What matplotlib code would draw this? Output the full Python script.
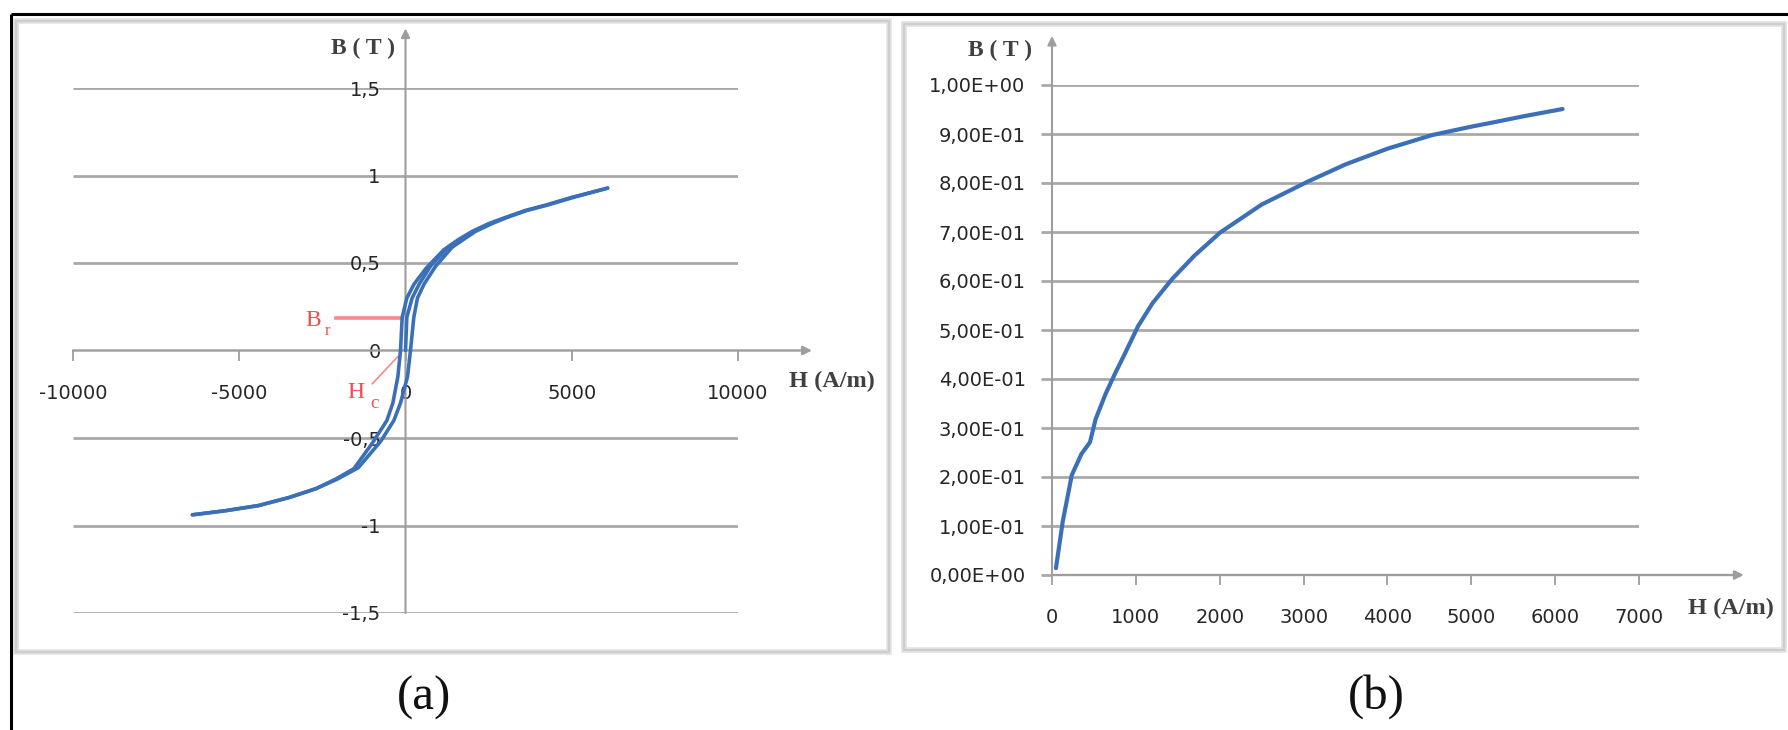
import matplotlib
matplotlib.use('Agg')
import matplotlib.pyplot as plt
from matplotlib.patches import Rectangle

W, H = 1788, 730

# ---------------- data ----------------
# (a) hysteresis loop - descending branch
desc_H = [6080, 5000, 4200, 3600, 3000, 2500, 2000, 1600, 1150, 620, 260, 40, -100, -150,
          -230, -380, -560, -1000, -1550, -2100, -2700, -3500, -4420, -5400, -6410]
desc_B = [0.928, 0.875, 0.83, 0.80, 0.76, 0.725, 0.68, 0.635, 0.575, 0.47, 0.38, 0.30, 0.19, 0.0,
          -0.15, -0.30, -0.40, -0.53, -0.675, -0.735, -0.79, -0.84, -0.886, -0.915, -0.939]
# (a) hysteresis loop - ascending branch
asc_H = [-6410, -5400, -4420, -3500, -2700, -2050, -1420, -750, -350, -150, 60, 150, 250,
         360, 560, 900, 1400, 1750, 2100, 2600, 3050, 3650, 4250, 5050, 6080]
asc_B = [-0.939, -0.915, -0.886, -0.84, -0.79, -0.735, -0.67, -0.52, -0.40, -0.30, -0.15, 0.0, 0.19,
         0.30, 0.38, 0.48, 0.59, 0.635, 0.68, 0.725, 0.76, 0.80, 0.83, 0.875, 0.928]
# (a) initial magnetisation strand
init_H = [0, 40, 200, 414, 760, 1280, 1650]
init_B = [0.0, 0.19, 0.30, 0.38, 0.484, 0.59, 0.635]

a_xticks = [-10000, -5000, 0, 5000, 10000]
a_xticklabels = ['-10000', '-5000', '0', '5000', '10000']
a_yticks = [-1.5, -1.0, -0.5, 0.0, 0.5, 1.0, 1.5]
a_yticklabels = ['-1,5', '-1', '-0,5', '0', '0,5', '1', '1,5']

# (b) first magnetisation curve
mag_H = [47, 128, 236, 351, 453, 520, 640, 757, 850, 1027, 1200, 1432, 1700, 2006, 2500,
         3052, 3500, 4000, 4537, 5000, 5300, 5617, 6089]
mag_B = [0.014, 0.109, 0.204, 0.247, 0.271, 0.318, 0.37, 0.413, 0.445, 0.508, 0.555, 0.604,
         0.652, 0.699, 0.756, 0.803, 0.838, 0.870, 0.898, 0.915, 0.925, 0.936, 0.951]

b_xticks = [0, 1000, 2000, 3000, 4000, 5000, 6000, 7000]
b_xticklabels = ['0', '1000', '2000', '3000', '4000', '5000', '6000', '7000']
b_yticks = [0.0, 0.1, 0.2, 0.3, 0.4, 0.5, 0.6, 0.7, 0.8, 0.9, 1.0]
b_yticklabels = ['0,00E+00', '1,00E-01', '2,00E-01', '3,00E-01', '4,00E-01', '5,00E-01',
                 '6,00E-01', '7,00E-01', '8,00E-01', '9,00E-01', '1,00E+00']

# ---------------- styles ----------------
BLUE = '#3b70b8'
GRID = '#a9a9a9'
AXC = '#9d9d9d'
TXT = '#262626'
RED = '#ee4d4d'
REDL = '#f28a8a'
TICKFONT = 'DejaVu Sans'
SERIF = 'Liberation Serif'

fig = plt.figure(figsize=(W / 100, H / 100), dpi=100)
fig.patch.set_facecolor('white')

bg = fig.add_axes([0, 0, 1, 1], zorder=-5)
bg.set_xlim(0, W)
bg.set_ylim(H, 0)
bg.axis('off')

# outer black frame (top & left)
bg.plot([11, 11], [H + 5, 14], color='black', lw=2.2, solid_capstyle='butt')
bg.plot([11, W + 5], [14, 14], color='black', lw=2.2, solid_capstyle='butt')

# panel boxes
for (x0, y0, x1, y1) in [(16, 21, 889, 652), (904, 24, 1784, 650)]:
    bg.add_patch(Rectangle((x0, y0), x1 - x0, y1 - y0, fill=False,
                           ec='#e2e2e2', lw=4.0))
    bg.add_patch(Rectangle((x0, y0), x1 - x0, y1 - y0, fill=False,
                           ec='#cdcdcd', lw=1.6))


def px_axes(x0, x1, y0, y1):
    ax = fig.add_axes([x0 / W, 1 - y1 / H, (x1 - x0) / W, (y1 - y0) / H])
    ax.patch.set_visible(False)
    return ax


# ================= (a) =================
ax1 = px_axes(73, 738, 88, 613)
ax1.set_xlim(-10000, 10000)
ax1.set_ylim(-1.5, 1.5)
for s in ['top', 'right']:
    ax1.spines[s].set_visible(False)
ax1.spines['left'].set_position(('data', 0))
ax1.spines['bottom'].set_position(('data', 0))
ax1.spines['left'].set_visible(False)
ax1.spines['bottom'].set_visible(False)
ax1.set_xticks(a_xticks)
ax1.set_xticklabels(a_xticklabels, fontfamily=TICKFONT)
ax1.set_yticks(a_yticks)
ax1.set_yticklabels(a_yticklabels, fontfamily=TICKFONT)
ax1.tick_params(axis='x', direction='out', length=7, width=1.3, color=AXC,
                pad=17, labelsize=14, labelcolor=TXT)
ax1.tick_params(axis='y', length=0, pad=18, labelsize=14, labelcolor=TXT)

ax1.hlines([v for v in a_yticks if v != 0], -10000, 10000, color=GRID, lw=2.0, zorder=1)
ax1.annotate('', xy=(12225, 0), xytext=(-10000, 0), annotation_clip=False,
             arrowprops=dict(arrowstyle='-|>', color=AXC, lw=1.7, mutation_scale=13,
                             shrinkA=0, shrinkB=0), zorder=2)
ax1.annotate('', xy=(0, 1.84), xytext=(0, -1.5), annotation_clip=False,
             arrowprops=dict(arrowstyle='-|>', color=AXC, lw=1.5, mutation_scale=13,
                             shrinkA=0, shrinkB=0), zorder=2)

for hx, by in [(desc_H, desc_B), (asc_H, asc_B), (init_H, init_B)]:
    ax1.plot(hx, by, color=BLUE, lw=2.6, solid_capstyle='round', solid_joinstyle='round',
             clip_on=False, zorder=4)

# Br / Hc annotations
ax1.plot([-2080, -110], [0.186, 0.186], color=REDL, lw=2.6, zorder=3, clip_on=False)
ax1.plot([-1000, -230], [-0.19, -0.035], color=REDL, lw=1.2, zorder=3, clip_on=False)
bg.text(313, 321, 'B', color=RED, fontsize=17, fontfamily=SERIF, ha='center', va='center')
bg.text(327, 331, 'r', color=RED, fontsize=12, fontfamily=SERIF, ha='center', va='center')
bg.text(356, 393, 'H', color=RED, fontsize=17, fontfamily=SERIF, ha='center', va='center')
bg.text(374, 403, 'c', color=RED, fontsize=13.5, fontfamily=SERIF, ha='center', va='center')

bg.text(363, 48, 'B ( T )', fontsize=17, fontfamily=SERIF, fontweight='bold',
        color='#404040', ha='center', va='center')
bg.text(832, 381, 'H (A/m)', fontsize=17.5, fontfamily=SERIF, fontweight='bold',
        color='#404040', ha='center', va='center')

# ================= (b) =================
ax2 = px_axes(1052, 1639, 85, 575)
ax2.set_xlim(0, 7000)
ax2.set_ylim(0, 1)
for s in ['top', 'right', 'left', 'bottom']:
    ax2.spines[s].set_visible(False)
ax2.set_xticks(b_xticks)
ax2.set_xticklabels(b_xticklabels, fontfamily=TICKFONT)
ax2.set_yticks(b_yticks)
ax2.set_yticklabels(b_yticklabels, fontfamily=TICKFONT)
ax2.tick_params(axis='x', direction='out', length=7, width=1.3, color=AXC,
                pad=17, labelsize=14, labelcolor=TXT)
ax2.tick_params(axis='y', direction='out', length=8, width=2.0, color=GRID,
                pad=11, labelsize=14, labelcolor=TXT)

ax2.hlines(b_yticks[1:], 0, 7000, color=GRID, lw=2.0, zorder=1)
ax2.annotate('', xy=(8250, 0), xytext=(0, 0), annotation_clip=False,
             arrowprops=dict(arrowstyle='-|>', color=AXC, lw=1.7, mutation_scale=13,
                             shrinkA=0, shrinkB=0), zorder=2)
ax2.annotate('', xy=(0, 1.10), xytext=(0, 0), annotation_clip=False,
             arrowprops=dict(arrowstyle='-|>', color=AXC, lw=1.5, mutation_scale=13,
                             shrinkA=0, shrinkB=0), zorder=2)

ax2.plot(mag_H, mag_B, color=BLUE, lw=3.0, solid_capstyle='round', solid_joinstyle='round',
         clip_on=False, zorder=4)

bg.text(1000, 50, 'B ( T )', fontsize=17, fontfamily=SERIF, fontweight='bold',
        color='#404040', ha='center', va='center')
bg.text(1731, 608, 'H (A/m)', fontsize=17.5, fontfamily=SERIF, fontweight='bold',
        color='#404040', ha='center', va='center')

# captions
bg.text(424, 698, '(a)', fontsize=35, fontfamily=SERIF, color='#111111',
        ha='center', va='center')
bg.text(1376, 697, '(b)', fontsize=35, fontfamily=SERIF, color='#111111',
        ha='center', va='center')

fig.savefig('out.png', dpi=100, facecolor='white')
